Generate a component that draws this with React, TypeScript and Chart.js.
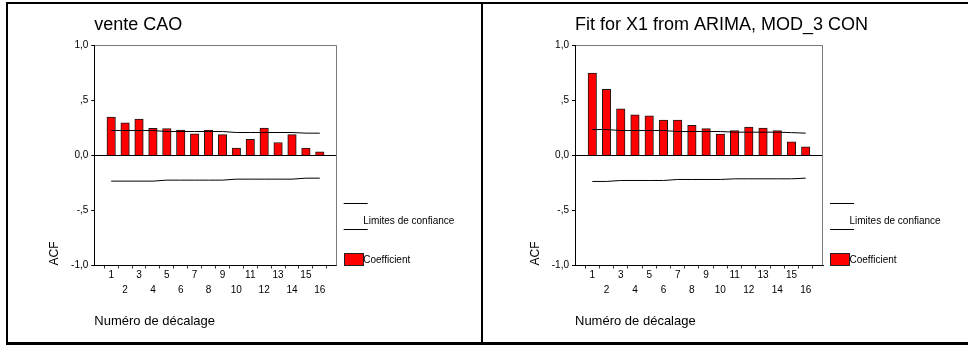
import React, { useEffect, useRef } from 'react';
import { Chart, registerables } from 'chart.js';

Chart.register(...registerables);

// ---------- data ----------
const lags = [1, 2, 3, 4, 5, 6, 7, 8, 9, 10, 11, 12, 13, 14, 15, 16];
const xTickLabels = ['1', '2', '3', '4', '5', '6', '7', '8', '9', '10', '11', '12', '13', '14', '15', '16'];
const yTickValues = [-1, -0.5, 0, 0.5, 1];
const yTickLabels = ['-1,0', '-,5', '0,0', ',5', '1,0'];

const venteTitle = 'vente CAO';
const venteAcf = [0.35, 0.298, 0.332, 0.246, 0.244, 0.23, 0.197, 0.23, 0.19, 0.068, 0.148, 0.25, 0.118, 0.19, 0.068, 0.033];
const venteUpper = [0.227, 0.227, 0.227, 0.227, 0.218, 0.218, 0.218, 0.218, 0.218, 0.209, 0.209, 0.209, 0.209, 0.209, 0.203, 0.203];
const venteLower = [-0.233, -0.233, -0.233, -0.233, -0.224, -0.224, -0.224, -0.224, -0.224, -0.215, -0.215, -0.215, -0.215, -0.215, -0.206, -0.206];

const fitTitle = 'Fit for X1 from ARIMA, MOD_3 CON';
const fitAcf = [0.75, 0.602, 0.425, 0.37, 0.36, 0.322, 0.322, 0.274, 0.244, 0.195, 0.227, 0.258, 0.25, 0.227, 0.124, 0.078];
const fitUpper = [0.236, 0.236, 0.227, 0.227, 0.227, 0.227, 0.218, 0.218, 0.218, 0.218, 0.212, 0.212, 0.212, 0.212, 0.208, 0.203];
const fitLower = [-0.236, -0.236, -0.227, -0.227, -0.227, -0.227, -0.218, -0.218, -0.218, -0.218, -0.212, -0.212, -0.212, -0.212, -0.212, -0.206];

const xAxisTitle = 'Numéro de décalage';
const yAxisTitle = 'ACF';
const legendLabels = ['Limites de confiance', 'Coefficient'];

// ---------- styling ----------
const FONT = '"Liberation Sans", Arial, Helvetica, sans-serif';
const CANVAS_TOP = 4;
const CANVAS_H = 338;
const Y_AXIS_W = 46.5;

const spssDecor = {
  id: 'spssDecor',
  afterDraw(chart: any, _args: any, opts: any) {
    const { ctx, chartArea: a } = chart;
    ctx.save();
    // chart title (drawn freely so it may run past the plot width)
    ctx.fillStyle = '#000';
    ctx.font = `18px ${FONT}`;
    ctx.textAlign = 'left';
    ctx.textBaseline = 'middle';
    ctx.fillText(opts.title || '', a.left, 25 - CANVAS_TOP);

    // right frame of plot
    ctx.strokeStyle = '#7a7a7a';
    ctx.lineWidth = 1;
    const rx = Math.round(a.right) - 0.5;
    ctx.beginPath();
    ctx.moveTo(rx, a.top);
    ctx.lineTo(rx, a.bottom);
    ctx.stroke();

    // legend: confidence limits
    ctx.strokeStyle = '#000';
    const x0 = a.right + 7;
    const x1 = a.right + 31;
    const y1 = Math.round(a.bottom - 63) + 0.5;
    const y2 = Math.round(a.bottom - 37) + 0.5;
    ctx.beginPath();
    ctx.moveTo(x0, y1);
    ctx.lineTo(x1, y1);
    ctx.moveTo(x0, y2);
    ctx.lineTo(x1, y2);
    ctx.stroke();
    ctx.fillStyle = '#000';
    ctx.font = `10px ${FONT}`;
    ctx.fillText(legendLabels[0], a.right + 26.5, a.bottom - 44.5);

    // legend: coefficient box
    const bx = Math.round(a.right + 7) + 0.5;
    const by = Math.round(a.bottom - 12.5) + 0.5;
    ctx.fillStyle = '#ff0000';
    ctx.fillRect(bx, by, 19, 12);
    ctx.strokeStyle = '#222';
    ctx.strokeRect(bx, by, 19, 12);
    ctx.fillStyle = '#000';
    ctx.fillText(legendLabels[1], a.right + 26.5, a.bottom - 5.5);
    ctx.restore();
  },
};

type PanelProps = {
  title: string;
  acf: number[];
  upper: number[];
  lower: number[];
  left: number;
  width: number;
  plotLeft: number;
  plotRight: number;
};

function AcfPanel({ title, acf, upper, lower, left, width, plotLeft, plotRight }: PanelProps) {
  const ref = useRef<HTMLCanvasElement | null>(null);

  useEffect(() => {
    if (!ref.current) return;
    const pl = plotLeft - left;
    const pr = plotRight - left;
    const padLeft = pl - Y_AXIS_W;
    const padRight = width - pr;
    const plotTop = 45.5 - CANVAS_TOP;
    const plotBottom = 265.5 - CANVAS_TOP;
    const xAxisH = CANVAS_H - plotBottom;
    const xTitleCenter = 321 - CANVAS_TOP;
    const xTitlePadBottom = CANVAS_H - xTitleCenter - (13 * 1.2) / 2;

    const chart = new Chart(ref.current, {
      type: 'bar',
      data: {
        datasets: [
          {
            type: 'bar',
            label: legendLabels[1],
            data: lags.map((l, i) => ({ x: l, y: acf[i] })),
            backgroundColor: '#ff0000',
            borderColor: '#1a1a1a',
            borderWidth: 1,
            barThickness: 8.5,
            order: 1,
          } as any,
          {
            type: 'line',
            label: legendLabels[0],
            data: lags.map((l, i) => ({ x: l, y: upper[i] })),
            borderColor: '#000',
            borderWidth: 1,
            pointRadius: 0,
            tension: 0,
            order: 0,
          } as any,
          {
            type: 'line',
            label: legendLabels[0],
            data: lags.map((l, i) => ({ x: l, y: lower[i] })),
            borderColor: '#000',
            borderWidth: 1,
            pointRadius: 0,
            tension: 0,
            order: 0,
          } as any,
        ],
      },
      options: {
        responsive: false,
        animation: false,
        devicePixelRatio: 1,
        layout: { padding: { left: padLeft, right: padRight, top: plotTop, bottom: 0 } },
        plugins: {
          legend: { display: false },
          tooltip: { enabled: false },
          title: { display: false },
          spssDecor: { title },
        },
        scales: {
          x: {
            type: 'linear',
            min: 0.33,
            max: 16.67,
            afterBuildTicks: (s: any) => {
              s.ticks = lags.map((v) => ({ value: v }));
            },
            afterFit: (s: any) => {
              s.height = xAxisH;
            },
            ticks: {
              autoSkip: false,
              maxRotation: 0,
              minRotation: 0,
              padding: 2.6,
              color: '#000',
              font: { family: FONT, size: 10, lineHeight: 0.785 },
              callback: (_v: any, i: number) => (i % 2 === 0 ? xTickLabels[i] : ['', '', xTickLabels[i]]),
            },
            grid: { drawOnChartArea: false, drawTicks: true, tickLength: 3, tickColor: '#333' },
            border: { display: true, color: '#000', width: 1 },
            title: {
              display: true,
              text: xAxisTitle,
              align: 'start',
              color: '#000',
              font: { family: FONT, size: 13, weight: 'normal', lineHeight: 1.2 },
              padding: { top: 0, bottom: xTitlePadBottom },
            },
          },
          y: {
            type: 'linear',
            min: -1,
            max: 1,
            afterBuildTicks: (s: any) => {
              s.ticks = yTickValues.map((v) => ({ value: v }));
            },
            afterFit: (s: any) => {
              s.width = Y_AXIS_W;
            },
            ticks: {
              padding: 3,
              color: '#000',
              font: { family: FONT, size: 10 },
              callback: (v: any) => yTickLabels[yTickValues.indexOf(Number(v))],
            },
            grid: {
              drawOnChartArea: true,
              drawTicks: true,
              tickLength: 3,
              tickColor: '#000',
              lineWidth: 1,
              color: (c: any) =>
                c.tick && c.tick.value === 0 ? '#000' : c.tick && c.tick.value === 1 ? '#7a7a7a' : 'rgba(0,0,0,0)',
            },
            border: { display: true, color: '#000', width: 1 },
            title: {
              display: true,
              text: yAxisTitle,
              align: 'start',
              color: '#000',
              font: { family: FONT, size: 12, weight: 'normal', lineHeight: 1.2 },
              padding: { top: 0, bottom: 0 },
            },
          },
        },
      } as any,
      plugins: [spssDecor],
    });
    return () => chart.destroy();
  }, [title, acf, upper, lower, left, width, plotLeft, plotRight]);

  return (
    <canvas
      ref={ref}
      width={width}
      height={CANVAS_H}
      style={{ position: 'absolute', left, top: CANVAS_TOP, width, height: CANVAS_H, display: 'block' }}
    />
  );
}

export default function App() {
  return (
    <div style={{ position: 'absolute', left: 0, top: 0, width: 968, height: 345, background: '#fff', overflow: 'hidden' }}>
      <div style={{ position: 'absolute', left: 6, top: 2, width: 962, height: 2, background: '#000' }} />
      <div style={{ position: 'absolute', left: 6, top: 2, width: 2, height: 343, background: '#000' }} />
      <div style={{ position: 'absolute', left: 481, top: 2, width: 2, height: 343, background: '#000' }} />
      <div style={{ position: 'absolute', left: 6, top: 342, width: 962, height: 3, background: '#000' }} />
      <AcfPanel title={venteTitle} acf={venteAcf} upper={venteUpper} lower={venteLower} left={9} width={472} plotLeft={94.3} plotRight={336.7} />
      <AcfPanel title={fitTitle} acf={fitAcf} upper={fitUpper} lower={fitLower} left={484} width={484} plotLeft={575} plotRight={823} />
    </div>
  );
}
